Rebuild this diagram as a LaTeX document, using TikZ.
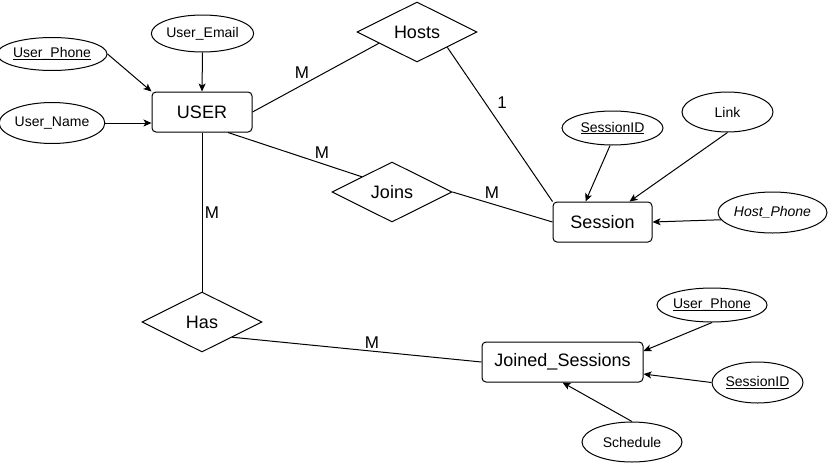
\documentclass[tikz,border=0pt]{standalone}
\usepackage{fontspec}
\setmainfont{Liberation Sans}
\usetikzlibrary{shapes.geometric,arrows.meta,calc}
\newcommand{\keyattr}[1]{\setbox0\hbox{#1}\rlap{\rule[-2pt]{\wd0}{0.8pt}}\box0}
\tikzset{
  entity/.style={draw,rectangle,rounded corners=4pt,line width=1pt,inner sep=0pt,minimum height=40pt,font=\fontsize{18}{20}\selectfont},
  rel/.style={draw,diamond,aspect=2,line width=1pt,inner sep=0pt,minimum width=120pt,minimum height=60pt,font=\fontsize{18}{20}\selectfont},
  attr/.style={draw,ellipse,line width=1pt,inner sep=0pt,font=\fontsize{14}{16}\selectfont},
  card/.style={font=\fontsize{17}{19}\selectfont,inner sep=0pt},
  link/.style={line width=1pt},
  arr/.style={line width=1pt,-{Stealth[length=8pt,width=7pt,inset=2pt]}}
}
\begin{document}
\begin{tikzpicture}[x=1pt,y=-1pt]
\useasboundingbox[fill=white] (0,0) rectangle (834,466);
% entities
\node[entity,minimum width=100pt] (user) at (202,112) {USER};
\node[entity,minimum width=99pt] (session) at (602.5,222) {Session};
\node[entity,minimum width=161pt] (js) at (562.5,362) {Joined\_Sessions};
% relationships
\node[rel] (hosts) at (417,32) {Hosts};
\node[rel] (joins) at (392,192) {Joins};
\node[rel] (has) at (202,322) {Has};
% attributes
\node[attr,minimum width=102pt,minimum height=33pt] (uphone) at (52,54) {\keyattr{User\_Phone}};
\node[attr,minimum width=101pt,minimum height=41pt] (uname) at (52,123) {User\_Name};
\node[attr,minimum width=91pt,minimum height=37pt] (uemail) at (202.5,33.5) {User\_Email};
\node[attr,minimum width=101pt,minimum height=34pt] (sid) at (612.5,128) {\keyattr{SessionID}};
\node[attr,minimum width=91pt,minimum height=40pt] (linkattr) at (727.5,112) {Link};
\node[attr,minimum width=100pt,minimum height=41pt] (hphone) at (772.5,212.5) {\itshape Host\_Phone};
\node[attr,minimum width=100pt,minimum height=34pt] (uphone2) at (712,305) {\keyattr{User\_Phone}};
\node[attr,minimum width=91pt,minimum height=41pt] (sid2) at (757.5,382.5) {\keyattr{SessionID}};
\node[attr,minimum width=100pt,minimum height=40pt] (sched) at (632,442) {Schedule};
% attribute arrows
\draw[arr] (uphone.east) -- (user.north west);
\draw[arr] (uname.east) -- (uname.east -| user.west);
\draw[arr] (uemail.south) -- (user.north);
\draw[arr] (sid.262) -- ([xshift=-17pt]session.north);
\draw[arr] (linkattr.south) -- ([xshift=27pt]session.north);
\draw[arr] (hphone.188) -- (session.east);
\draw[arr] (uphone2.south) -- ([yshift=11pt]js.east);
\draw[arr] (sid2.west) -- ([yshift=-12pt]js.east);
\draw[arr] (sched.north) -- (js.south);
% relationship lines
\draw[link] (user.east) -- ($(hosts.west)!0.37!(hosts.south)$);
\draw[link] ($(hosts.east)!0.5!(hosts.south)$) -- (session.north west);
\draw[link] ([xshift=26pt]user.south) -- ($(joins.west)!0.5!(joins.north)$);
\draw[link] (joins.east) -- (session.west);
\draw[link] (user.south) -- (has.north);
\draw[link] ($(has.east)!0.5!(has.south)$) -- (js.west);
% cardinalities
\node[card] (c1) at (302,73) {M};
\node[card] (c2) at (502,103) {1};
\node[card] (c3) at (322,153) {M};
\node[card] (c4) at (492,193) {M};
\node[card] (c5) at (212,213) {M};
\node[card] (c6) at (372,343) {M};
\end{tikzpicture}
\end{document}
